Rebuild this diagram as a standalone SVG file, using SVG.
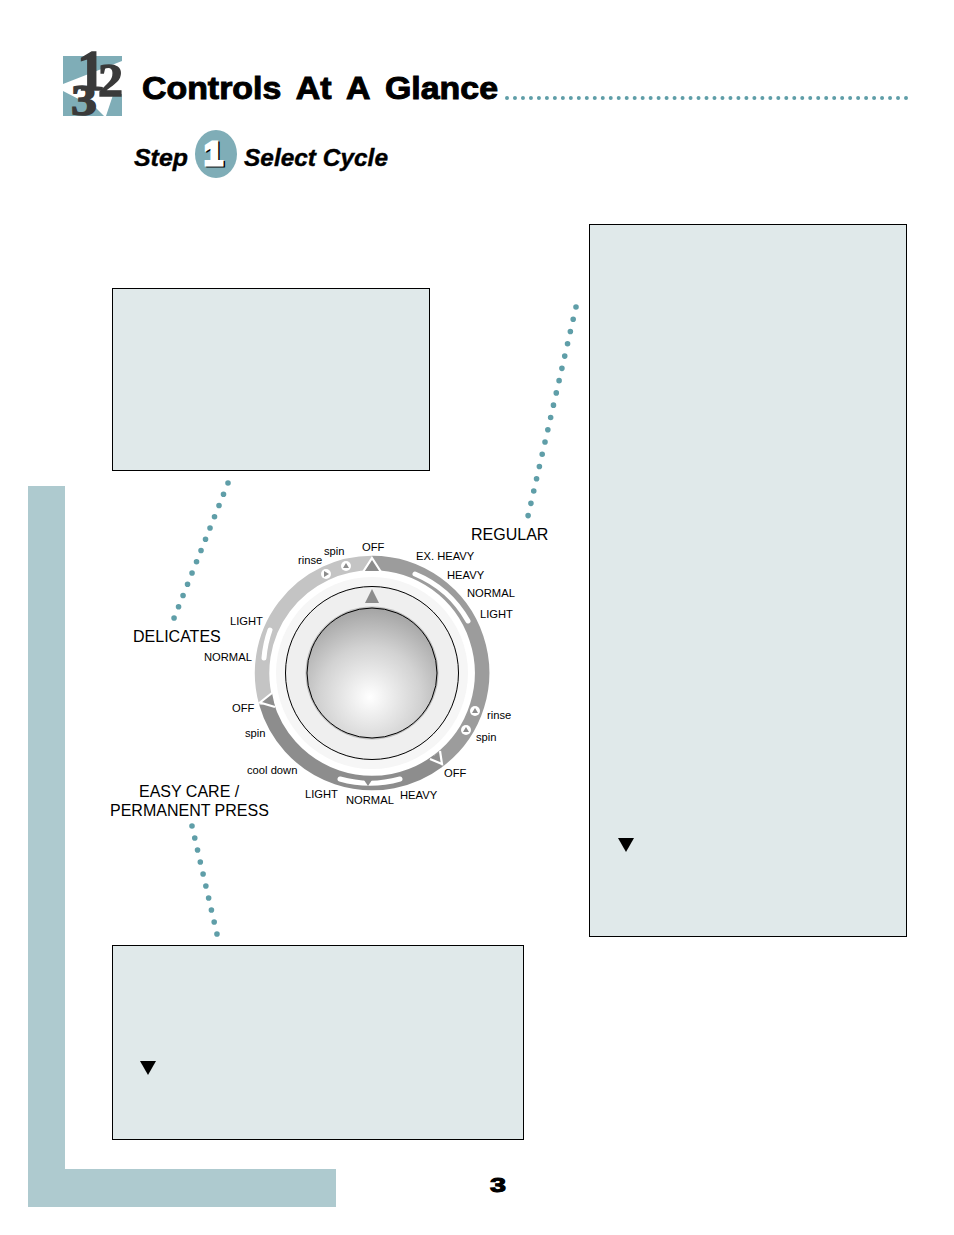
<svg xmlns="http://www.w3.org/2000/svg" width="954" height="1235" viewBox="0 0 954 1235">
<style>
.panel{fill:#e0e9ea;stroke:#000;stroke-width:1}
.side{fill:#aecacf}
.dots{fill:none;stroke:#5f9ea8;stroke-width:5.600;stroke-linecap:round}
.hdots{fill:none;stroke:#5f9ea8;stroke-width:4;stroke-linecap:round;stroke-dasharray:0 7.980}
.lab{font-family:"Liberation Sans",Arial,sans-serif;font-size:11.200px;fill:#000}
.big{font-family:"Liberation Sans",Arial,sans-serif;font-size:16px;fill:#000}
.head{font-family:"Liberation Sans",Arial,sans-serif;font-weight:bold;fill:#000;stroke:#000;stroke-width:1}
.step{font-family:"Liberation Sans",Arial,sans-serif;font-weight:bold;font-style:italic;font-size:24.600px;fill:#000;stroke:#000;stroke-width:.4}
.num{font-family:"Liberation Serif","Times New Roman",serif;font-weight:bold;fill:#3a3a3a;stroke:#3a3a3a;stroke-width:1.400}
.stepnum{font-family:"Liberation Sans",Arial,sans-serif;font-weight:bold;font-size:34px;stroke-width:3}
.slot{fill:none;stroke:#fff;stroke-width:5;stroke-linecap:round}
.ring{fill:none;stroke-width:14.500}
.wc{fill:#fff}
.mk{fill:#8c8c8c}
.chev{fill:none;stroke:#fff;stroke-width:2.200}
</style>
<defs>
<radialGradient id="knob" gradientUnits="userSpaceOnUse" cx="370" cy="697" r="92">
<stop offset="0" stop-color="#ffffff"/><stop offset="0.55" stop-color="#d2d2d2"/><stop offset="1" stop-color="#a0a0a0"/>
</radialGradient>
</defs>
<g id="sidebar">
<rect class="side" x="28" y="486" width="37" height="721"/>
<rect class="side" x="65" y="1169" width="271" height="38"/>
</g>
<g id="logo">
<polygon points="63,56 122,56 122,61 63,84" fill="#7fadb7"/>
<polygon points="63,91 96,108 104,116 63,116" fill="#7fadb7"/>
<polygon points="113,95 122,94 122,116 106,116" fill="#7fadb7"/>
<text class="num" x="77" y="90" font-size="56">1</text>
<text class="num" x="71" y="115" font-size="44" textLength="26" lengthAdjust="spacingAndGlyphs">3</text>
<text class="num" x="98" y="96" font-size="47" textLength="25" lengthAdjust="spacingAndGlyphs">2</text>
</g>
<g id="title">
<text class="head" x="142" y="99" font-size="32" word-spacing="6" textLength="356" lengthAdjust="spacingAndGlyphs">Controls At A Glance</text>
<path class="hdots" d="M507 98H907"/>
</g>
<g id="step">
<text class="step" x="134" y="166" textLength="54" lengthAdjust="spacingAndGlyphs">Step</text>
<ellipse cx="216" cy="154" rx="21" ry="24" fill="#7fadb7"/>
<text class="stepnum" x="205.500" y="166" fill="#000" stroke="#000">1</text>
<text class="stepnum" x="204" y="165" fill="#fff" stroke="#fff">1</text>
<text class="step" x="244" y="166" textLength="144" lengthAdjust="spacingAndGlyphs">Select Cycle</text>
</g>
<g id="panel-delicates"><rect class="panel" x="112.500" y="288.500" width="317" height="182"/></g>
<g id="panel-regular">
<rect class="panel" x="589.500" y="224.500" width="317" height="712"/>
<polygon points="618,838 634,838 626,852" fill="#000"/>
</g>
<g id="panel-easycare">
<rect class="panel" x="112.500" y="945.500" width="411" height="194"/>
<polygon points="140,1061 156,1061 148,1075" fill="#000"/>
</g>
<g id="connectors">
<path class="dots" stroke-dasharray="0 12.590" d="M576 307L528 516.100"/>
<path class="dots" stroke-dasharray="0 12.110" d="M228 483L174 618.100"/>
<path class="dots" stroke-dasharray="0 12.310" d="M192 826L217 934.100"/>
</g>
<g id="dial">
<circle cx="372" cy="673" r="103" fill="#fff"/>
<path class="ring" stroke="#9c9c9c" d="M372 563A110 110 0 0 1 438.200 760.900"/>
<path class="ring" stroke="#8d8d8d" d="M438.200 760.900A110 110 0 0 1 266.300 703.300"/>
<path class="ring" stroke="#c4c4c4" d="M266.300 703.300A110 110 0 0 1 372 563"/>
<path class="slot" d="M415 574A108.500 108.500 0 0 1 468 621"/>
<path class="slot" d="M270 630A110 110 0 0 0 264 658"/>
<path class="slot" d="M340 779A110 110 0 0 0 400 779"/>
<polygon class="mk" points="372,560 364,571 380,571"/>
<polyline class="chev" points="363,572 372,558 381,572"/>
<polygon points="260,702 272,693 275,707" fill="#8d8d8d"/>
<polyline class="chev" points="272,693 260,702.500 275,707"/>
<polygon points="442,764 430,759 440,752" fill="#8d8d8d"/>
<polyline class="chev" points="440,751 442,764 430,759"/>
<g id="icons">
<circle class="wc" cx="326" cy="574" r="5"/><polygon class="mk" points="324,571 329,574 324,577"/>
<circle class="wc" cx="346" cy="566" r="5"/><polygon class="mk" points="346,563 349,568 343,568"/>
<circle class="wc" cx="475" cy="711" r="5"/><polygon class="mk" points="475,708 478,713 472,713"/>
<circle class="wc" cx="466" cy="730" r="5"/><polygon class="mk" points="466,727 469,732 463,732"/>
<polygon class="mk" points="364,780 372,780 368,786"/>
</g>
<circle cx="372" cy="673" r="96" fill="#f6f6f6"/>
<circle cx="372" cy="673" r="86.500" fill="#efefef" stroke="#000" stroke-width="1"/>
<polygon class="mk" points="372,589 365,603 379,603"/>
<circle cx="372" cy="673" r="66.500" fill="#bdbdbd"/>
<circle cx="372" cy="673" r="65" fill="url(#knob)" stroke="#000" stroke-width="1"/>
</g>
<g id="labels">
<text class="big" x="471" y="540">REGULAR</text>
<text class="big" x="133" y="642">DELICATES</text>
<text class="big" x="139" y="797">EASY CARE /</text>
<text class="big" x="110" y="816">PERMANENT PRESS</text>
<text class="lab" x="362" y="551">OFF</text>
<text class="lab" x="324" y="555">spin</text>
<text class="lab" x="298" y="564">rinse</text>
<text class="lab" x="416" y="560">EX. HEAVY</text>
<text class="lab" x="447" y="579">HEAVY</text>
<text class="lab" x="467" y="597">NORMAL</text>
<text class="lab" x="480" y="618">LIGHT</text>
<text class="lab" x="230" y="625">LIGHT</text>
<text class="lab" x="204" y="661">NORMAL</text>
<text class="lab" x="232" y="712">OFF</text>
<text class="lab" x="245" y="737">spin</text>
<text class="lab" x="247" y="774">cool down</text>
<text class="lab" x="487" y="719">rinse</text>
<text class="lab" x="476" y="741">spin</text>
<text class="lab" x="444" y="777">OFF</text>
<text class="lab" x="305" y="798">LIGHT</text>
<text class="lab" x="346" y="804">NORMAL</text>
<text class="lab" x="400" y="799">HEAVY</text>
</g>
<g id="page-number"><text class="head" x="490" y="1192" font-size="20" textLength="16" lengthAdjust="spacingAndGlyphs">3</text></g>
</svg>
